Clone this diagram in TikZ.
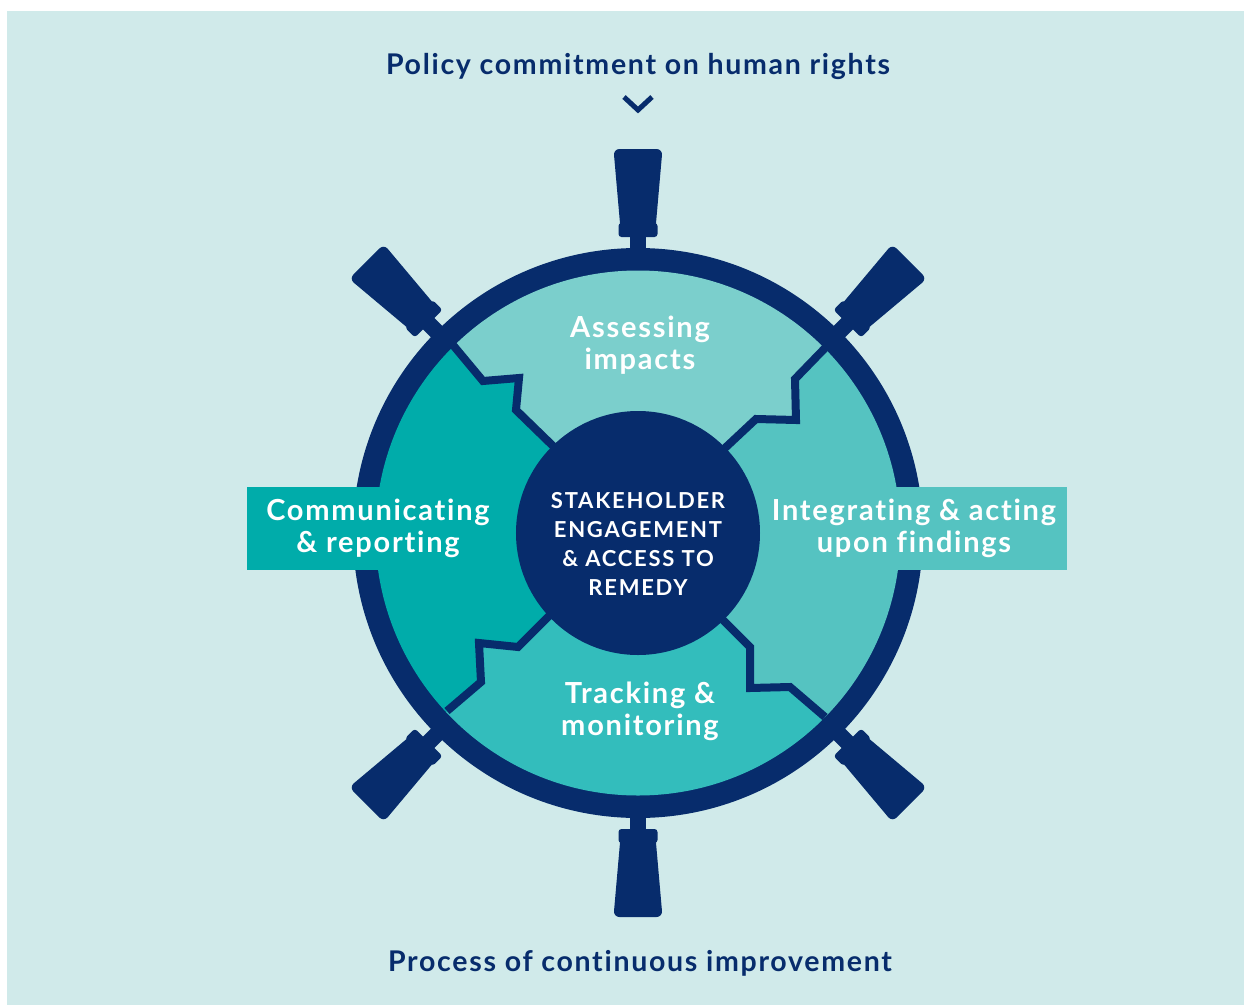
\documentclass[tikz,border=0pt]{standalone}
\usepackage{fontspec}
\setsansfont{Lato}[LetterSpace=6, Ligatures=NoCommon]
\newfontfamily\hubfont{Lato}[LetterSpace=8, Ligatures=NoCommon]
\definecolor{navy}{HTML}{072C6C}
\definecolor{paper}{HTML}{D0EAEA}
\definecolor{assess}{HTML}{7BCFCC}
\definecolor{integ}{HTML}{55C3C1}
\definecolor{track}{HTML}{33BDBC}
\definecolor{commun}{HTML}{00ACAA}
\tikzset{
  pics/handle/.style={code={
    \fill[navy] (-8,270) rectangle (8,300);
    \fill[navy,rounded corners=3] (-19.5,296) rectangle (19.5,310);
    \fill[navy,rounded corners=6] (-17.5,304) -- (-24.5,384) -- (24.5,384) -- (17.5,304) -- cycle;
  }},
}
\begin{document}
\begin{tikzpicture}
  [x=1pt,y=1pt,
  stage/.style={font=\sffamily\bfseries\fontsize{29}{32}\selectfont, text=white, align=center},
  banner/.style={font=\sffamily\bfseries\fontsize{28.5}{32}\selectfont, text=navy},
  hub/.style={circle, fill=navy, minimum size=244, inner sep=0},
  hubtext/.style={text=white, align=center, font=\hubfont\bfseries\fontsize{22}{29}\selectfont},
  divider/.style={draw=navy, line width=8},
  ]
  \useasboundingbox (-638,533) rectangle (606,-472);
  \fill[white] (-638,533) rectangle (606,-472);
  \fill[paper] (-631,522) rectangle (606,-472);

  \coordinate (mid) at (0,0);
  \coordinate (tl0) at (-86,88);
  \coordinate (tl1) at (-122,123);
  \coordinate (tl2) at (-119,155);
  \coordinate (tl3) at (-155,152);
  \coordinate (tl4) at (-185,188);
  \coordinate (tr0) at (87,85);
  \coordinate (tr1) at (118,114);
  \coordinate (tr2) at (158,113);
  \coordinate (tr3) at (157,154);
  \coordinate (tr4) at (189,187);
  \coordinate (br0) at (85,-87);
  \coordinate (br1) at (112,-114);
  \coordinate (br2) at (112,-155);
  \coordinate (br3) at (152,-154);
  \coordinate (br4) at (187,-184);
  \coordinate (bl0) at (-90,-84);
  \coordinate (bl1) at (-120,-114);
  \coordinate (bl2) at (-159,-110);
  \coordinate (bl3) at (-157,-149);
  \coordinate (bl4) at (-191,-178);

  \foreach \a in {0,45,135,180,225,315}
    \pic[rotate=\a] at (mid) {handle};
  \draw[navy, line width=23] (mid) circle[radius=273.5];

  \begin{scope}
    \clip (mid) circle[radius=262.5];
    \fill[assess] (mid) -- (tl0) -- (tl1) -- (tl2) -- (tl3) -- (tl4) -- (-400,400)
      -- (400,400) -- (tr4) -- (tr3) -- (tr2) -- (tr1) -- (tr0) -- cycle;
    \fill[integ] (mid) -- (tr0) -- (tr1) -- (tr2) -- (tr3) -- (tr4) -- (400,400)
      -- (400,-400) -- (br4) -- (br3) -- (br2) -- (br1) -- (br0) -- cycle;
    \fill[track] (mid) -- (br0) -- (br1) -- (br2) -- (br3) -- (br4) -- (400,-400)
      -- (-400,-400) -- (bl4) -- (bl3) -- (bl2) -- (bl1) -- (bl0) -- cycle;
    \fill[commun] (mid) -- (bl0) -- (bl1) -- (bl2) -- (bl3) -- (bl4) -- (-400,-400)
      -- (-400,400) -- (tl4) -- (tl3) -- (tl2) -- (tl1) -- (tl0) -- cycle;
  \end{scope}
  \foreach \d in {tl,tr,br,bl}
    \draw[divider] (mid) -- (\d0) -- (\d1) -- (\d2) -- (\d3) -- (\d4);

  \node[hub] (hub) at (mid) {};
  \node[hubtext] (hubtext) at (0,-11) {STAKEHOLDER\\ENGAGEMENT\\\& ACCESS TO\\REMEDY};

  % side boxes
  \fill[commun] (-391,46) rectangle (-238,-37);
  \fill[integ] (242,46) rectangle (429,-37);

  \node[stage] (assessing) at (2,188) {Assessing\\impacts};
  \node[stage] (integrating) at (276,5) {Integrating \& acting\\upon findings};
  \node[stage] (tracking) at (2,-178) {Tracking \&\\monitoring};
  \node[stage] (communicating) at (-260,5) {Communicating\\\& reporting};

  \node[banner] (policy) at (0,467) {Policy commitment on human rights};
  \node[banner] (process) at (2,-430) {Process of continuous improvement};
  \coordinate (tip) at (0,423);
  \draw[navy, line width=5] (tip) ++(-14,13) -- (tip) -- ++(14,13);
\end{tikzpicture}
\end{document}
